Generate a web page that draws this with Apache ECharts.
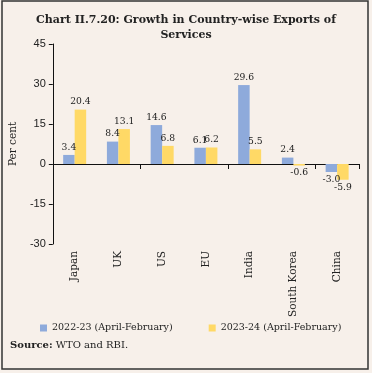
<!DOCTYPE html>
<html>
<head>
<meta charset="utf-8">
<script src="https://cdn.jsdelivr.net/npm/echarts@6/dist/echarts.min.js"></script>
<style>
html,body{margin:0;padding:0;background:#f7f0ea;}
#c{width:372px;height:373px;}
</style>
</head>
<body>
<div id="c"></div>
<script>
const categories = ['Japan', 'UK', 'US', 'EU', 'India', 'South Korea', 'China'];
const seriesNames = ['2022-23 (April-February)', '2023-24 (April-February)'];
const values2022 = [3.4, 8.4, 14.6, 6.1, 29.6, 2.4, -3.0];
const values2023 = [20.4, 13.1, 6.8, 6.2, 5.5, -0.6, -5.9];
const yTicks = { min: -30, max: 45, interval: 15 };
const colors = ['#8eaadb', '#ffd966'];

const serif = 'DejaVu Serif';
const sans = 'Liberation Sans';

function toData(arr) {
  return arr.map(v => ({
    value: v,
    label: { position: v < 0 ? 'bottom' : 'top' }
  }));
}

function makeSeries(name, arr, color) {
  return {
    name: name,
    type: 'bar',
    xAxisIndex: 0,
    data: toData(arr),
    barWidth: 11.5,
    barGap: '0%',
    itemStyle: { color: color },
    label: {
      show: true,
      formatter: p => p.value.toFixed(1),
      fontFamily: serif,
      fontSize: 9.2,
      color: '#222',
      distance: 3
    }
  };
}

const chart = echarts.init(document.getElementById('c'));
chart.setOption({
  backgroundColor: '#f7f0ea',
  animation: false,
  title: {
    text: 'Chart II.7.20: Growth in Country-wise Exports of\nServices',
    left: 'center',
    top: 8,
    textStyle: { fontFamily: serif, fontWeight: 'bold', fontSize: 11, color: '#222', lineHeight: 15 }
  },
  grid: { left: 48, right: 13, top: 44, bottom: 129, containLabel: false },
  legend: {
    data: seriesNames,
    left: 35,
    top: 318,
    itemWidth: 7,
    itemHeight: 7,
    itemGap: 36,
    icon: 'rect',
    textStyle: { fontFamily: serif, fontSize: 9.5, color: '#222' }
  },
  xAxis: [
    {
      type: 'category',
      data: categories,
      position: 'top',
      axisLine: { onZero: true, lineStyle: { color: '#111', width: 1 } },
      axisTick: { show: true, inside: true, length: 5, lineStyle: { color: '#111' } },
      axisLabel: { show: false },
      splitLine: { show: false }
    },
    {
      type: 'category',
      data: categories,
      position: 'bottom',
      axisLine: { show: false, onZero: false },
      axisTick: { show: false },
      axisLabel: { rotate: 90, margin: 7, fontFamily: serif, fontSize: 10.5, color: '#222' },
      splitLine: { show: false }
    }
  ],
  yAxis: {
    type: 'value',
    min: yTicks.min,
    max: yTicks.max,
    interval: yTicks.interval,
    name: 'Per cent',
    nameLocation: 'middle',
    nameGap: 30,
    nameTextStyle: { fontFamily: serif, fontSize: 10.5, color: '#222' },
    axisLine: { show: true, lineStyle: { color: '#111', width: 1 } },
    axisTick: { show: true, length: 4, lineStyle: { color: '#111' } },
    axisLabel: { fontFamily: sans, fontSize: 11, color: '#222', margin: 7 },
    splitLine: { show: false }
  },
  series: [
    makeSeries(seriesNames[0], values2022, colors[0]),
    makeSeries(seriesNames[1], values2023, colors[1])
  ],
  graphic: [
    {
      type: 'rect',
      shape: { x: 2, y: 1, width: 366, height: 368 },
      style: { fill: 'none', stroke: '#333', lineWidth: 1.5 },
      silent: true
    },
    {
      type: 'text',
      left: 10,
      top: 340,
      style: {
        text: '{b|Source:} WTO and RBI.',
        rich: {
          b: { fontFamily: serif, fontWeight: 'bold', fontSize: 10, fill: '#222' }
        },
        fontFamily: serif,
        fontSize: 10,
        fill: '#222'
      }
    }
  ]
});
</script>
</body>
</html>
